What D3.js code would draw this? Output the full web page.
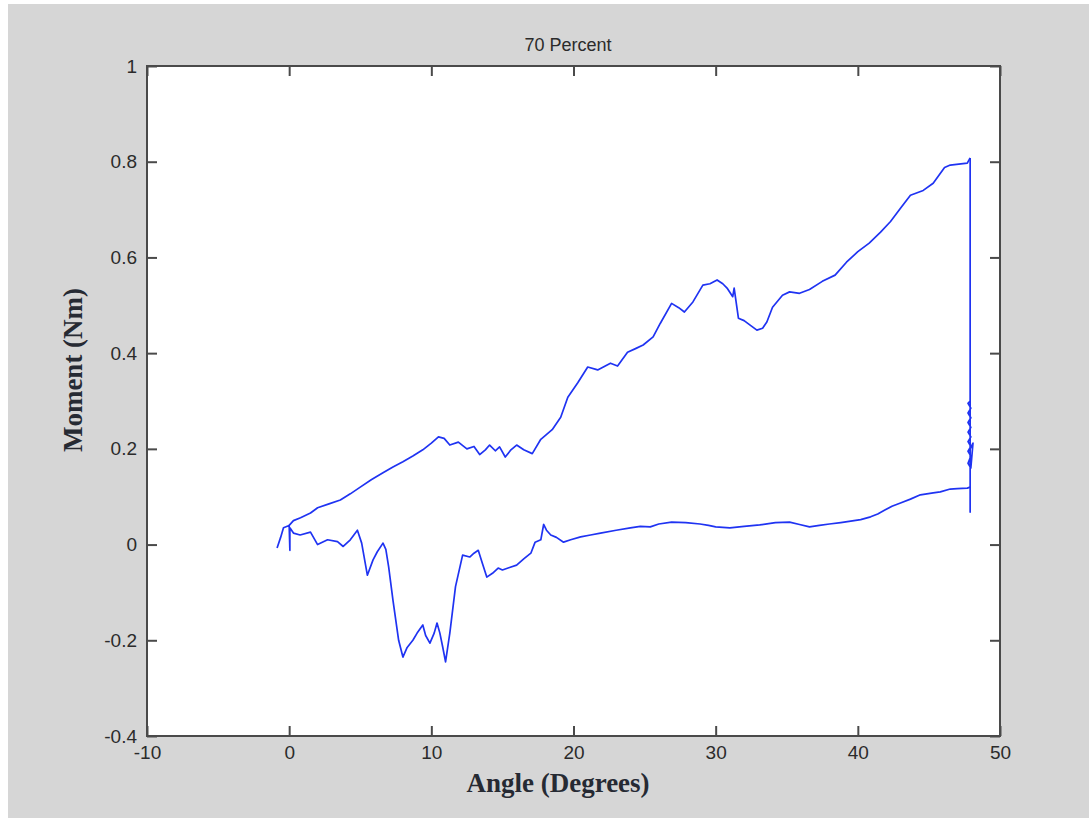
<!DOCTYPE html>
<html>
<head>
<meta charset="utf-8">
<script src="https://cdn.jsdelivr.net/npm/d3@7"></script>
<style>
  body { margin: 0; background: #ffffff; }
  .tick text { font-family: "Liberation Sans", Arial, sans-serif; font-size: 19px; fill: #2b2b2b; }
  .tick line { stroke: #4a4a4a; stroke-width: 2; }
  .axis-title { font-family: "Liberation Serif", "Times New Roman", serif; font-weight: bold; font-size: 27px; fill: #262a33; }
  .chart-title { font-family: "Liberation Sans", Arial, sans-serif; font-size: 18px; fill: #2b2b2b; }
</style>
</head>
<body>
<div id="chart"></div>
<script>
// chart values
const titleText = "70 Percent"
const xTitle = "Angle (Degrees)"
const yTitle = "Moment (Nm)"

const xTicks = [-10, 0, 10, 20, 30, 40, 50]
const xTickLabels = ["-10", "0", "10", "20", "30", "40", "50"]
const yTicks = [-0.4, -0.2, 0, 0.2, 0.4, 0.6, 0.8, 1]
const yTickLabels = ["-0.4", "-0.2", "0", "0.2", "0.4", "0.6", "0.8", "1"]

// loading branch (upper)
const upperAngle = [0.0, 0.3, 0.8, 1.5, 2.0, 2.8, 3.6, 4.3, 5.0, 5.8, 6.6, 7.3, 8.0, 8.7, 9.4, 10.0, 10.5, 10.9, 11.3, 11.9,
  12.5, 13.0, 13.4, 13.8, 14.1, 14.5, 14.8, 15.2, 15.6, 16.0, 16.5, 17.1, 17.7, 18.5, 19.1, 19.6, 20.3, 21.0, 21.7, 22.6,
  23.1, 23.8, 24.4, 24.9, 25.6, 26.1, 26.9, 27.4, 27.8, 28.4, 29.1, 29.6, 30.1, 30.5, 30.8, 31.2, 31.3, 31.6, 32.0, 32.4,
  32.9, 33.3, 33.6, 34.0, 34.7, 35.2, 35.9, 36.6, 37.5, 38.4, 39.2, 40.0, 40.8, 41.6, 42.3, 43.0, 43.7, 44.6, 45.3, 46.1,
  46.5, 47.1, 47.7, 47.9]
const upperMoment = [0.040, 0.050, 0.056, 0.066, 0.077, 0.085, 0.093, 0.106, 0.120, 0.136, 0.150, 0.162, 0.173, 0.185, 0.198, 0.212, 0.225, 0.222, 0.208, 0.214,
  0.200, 0.205, 0.188, 0.198, 0.208, 0.196, 0.204, 0.183, 0.198, 0.208, 0.198, 0.190, 0.220, 0.240, 0.266, 0.308, 0.338, 0.371, 0.365, 0.379,
  0.373, 0.402, 0.410, 0.417, 0.434, 0.462, 0.504, 0.495, 0.486, 0.507, 0.542, 0.545, 0.553, 0.545, 0.536, 0.518, 0.536, 0.473, 0.468, 0.459,
  0.448, 0.452, 0.465, 0.496, 0.521, 0.528, 0.525, 0.533, 0.550, 0.563, 0.590, 0.612, 0.630, 0.653, 0.675, 0.703, 0.730, 0.740, 0.755, 0.788,
  0.793, 0.795, 0.797, 0.808]

// drop and oscillation at the end angle
const turnAngle = [47.9, 47.9, 47.9, 47.75, 47.95, 47.75, 47.95, 47.75, 47.95, 47.75, 47.95, 47.75, 47.95, 47.75, 47.95,
  47.75, 47.95, 48.1, 47.9, 47.9]
const turnMoment = [0.808, 0.068, 0.300, 0.295, 0.285, 0.275, 0.265, 0.255, 0.245, 0.235, 0.225, 0.215, 0.205, 0.195, 0.185,
  0.170, 0.160, 0.212, 0.200, 0.120]

// unloading branch (lower)
const lowerAngle = [47.9, 47.7, 47.0, 46.5, 45.8, 45.3, 44.4, 43.7, 43.0, 42.4, 41.9, 41.4, 40.9, 40.2, 39.5, 38.8, 38.0, 37.3, 36.6, 35.9,
  35.2, 34.2, 33.1, 32.0, 31.0, 30.0, 29.5, 28.9, 27.9, 26.9, 26.0, 25.4, 24.7, 24.0, 23.0, 21.9, 21.2, 20.5, 19.8, 19.3,
  18.8, 18.4, 18.1, 17.9, 17.7, 17.3, 17.0, 16.5, 16.0, 15.5, 15.0, 14.7, 14.3, 13.9, 13.6, 13.3, 13.0, 12.7, 12.2, 11.7,
  11.3, 11.0, 10.8, 10.6, 10.4, 10.2, 9.9, 9.6, 9.4, 9.0, 8.7, 8.3, 8.0, 7.7, 7.3, 7.0, 6.8, 6.6, 6.2, 5.9,
  5.5, 5.1, 4.8, 4.3, 3.8, 3.4, 2.7, 2.0, 1.5, 0.77, 0.3, 0.05, 0.05, 0.0, -0.4, -0.6, -0.85]
const lowerMoment = [0.120, 0.118, 0.117, 0.116, 0.110, 0.108, 0.104, 0.095, 0.087, 0.080, 0.072, 0.064, 0.058, 0.052, 0.049, 0.046, 0.043, 0.040, 0.037, 0.042,
  0.047, 0.046, 0.041, 0.038, 0.035, 0.037, 0.040, 0.043, 0.046, 0.047, 0.043, 0.037, 0.038, 0.035, 0.030, 0.024, 0.020, 0.016, 0.010, 0.005,
  0.015, 0.020, 0.030, 0.042, 0.010, 0.005, -0.018, -0.030, -0.043, -0.048, -0.053, -0.049, -0.060, -0.068, -0.040, -0.012, -0.018, -0.026, -0.022, -0.088,
  -0.185, -0.245, -0.214, -0.185, -0.164, -0.185, -0.206, -0.190, -0.168, -0.185, -0.200, -0.215, -0.235, -0.200, -0.116, -0.047, -0.010, 0.003, -0.015, -0.032,
  -0.064, 0.003, 0.030, 0.010, -0.004, 0.006, 0.010, 0.000, 0.026, 0.020, 0.024, 0.035, -0.012, 0.040, 0.035, 0.015, -0.007]

function drawChart() {

  // 1. dimensions
  let dimensions = {
    width: 1089,
    height: 818,
    margin: { top: 66, right: 89, bottom: 82, left: 147 },
  }
  dimensions.boundedWidth = dimensions.width - dimensions.margin.left - dimensions.margin.right
  dimensions.boundedHeight = dimensions.height - dimensions.margin.top - dimensions.margin.bottom

  // 2. canvas
  const wrapper = d3.select("#chart")
    .append("svg")
      .attr("width", dimensions.width)
      .attr("height", dimensions.height)
      .style("display", "block")

  wrapper.append("rect")
    .attr("x", 8)
    .attr("y", 4)
    .attr("width", dimensions.width - 8)
    .attr("height", dimensions.height - 4)
    .attr("fill", "#d6d6d6")

  const bounds = wrapper.append("g")
    .attr("transform", `translate(${dimensions.margin.left},${dimensions.margin.top})`)

  bounds.append("rect")
    .attr("width", dimensions.boundedWidth)
    .attr("height", dimensions.boundedHeight)
    .attr("fill", "#ffffff")

  // 3. scales
  const xScale = d3.scaleLinear()
    .domain([-10, 50])
    .range([0, dimensions.boundedWidth])
  const yScale = d3.scaleLinear()
    .domain([-0.4, 1])
    .range([dimensions.boundedHeight, 0])

  // 4. axes (ticks point inward, box on all sides)
  const tickLen = 10
  const xLabel = d => xTickLabels[xTicks.indexOf(d)]
  const yLabel = d => yTickLabels[yTicks.indexOf(d)]

  const xAxis = bounds.append("g")
    .attr("transform", `translate(0,${dimensions.boundedHeight})`)
    .call(d3.axisBottom(xScale).tickValues(xTicks).tickFormat(xLabel)
      .tickSizeInner(-tickLen).tickSizeOuter(0).tickPadding(10))
  const xAxisTop = bounds.append("g")
    .call(d3.axisTop(xScale).tickValues(xTicks).tickFormat("")
      .tickSizeInner(-tickLen).tickSizeOuter(0))
  const yAxis = bounds.append("g")
    .call(d3.axisLeft(yScale).tickValues(yTicks).tickFormat(yLabel)
      .tickSizeInner(-tickLen).tickSizeOuter(0).tickPadding(10))
  const yAxisRight = bounds.append("g")
    .attr("transform", `translate(${dimensions.boundedWidth},0)`)
    .call(d3.axisRight(yScale).tickValues(yTicks).tickFormat("")
      .tickSizeInner(-tickLen).tickSizeOuter(0))

  bounds.selectAll(".domain").remove()

  bounds.append("rect")
    .attr("width", dimensions.boundedWidth)
    .attr("height", dimensions.boundedHeight)
    .attr("fill", "none")
    .attr("stroke", "#4a4a4a")
    .attr("stroke-width", 2)

  // 5. data
  const lineGenerator = d3.line()
    .x(d => xScale(d[0]))
    .y(d => yScale(d[1]))

  const lineColor = "#1f33f2"
  const pieces = [
    [upperAngle, upperMoment],
    [turnAngle, turnMoment],
    [lowerAngle, lowerMoment],
  ]
  pieces.forEach(([xs, ys]) => {
    bounds.append("path")
      .attr("d", lineGenerator(xs.map((x, i) => [x, ys[i]])))
      .attr("fill", "none")
      .attr("stroke", lineColor)
      .attr("stroke-width", 1.7)
      .attr("stroke-linejoin", "round")
  })

  // 6. titles
  wrapper.append("text")
    .attr("class", "chart-title")
    .attr("x", 568)
    .attr("y", 51)
    .attr("text-anchor", "middle")
    .text(titleText)

  wrapper.append("text")
    .attr("class", "axis-title")
    .attr("x", 558)
    .attr("y", 792)
    .attr("text-anchor", "middle")
    .text(xTitle)

  wrapper.append("text")
    .attr("class", "axis-title")
    .attr("transform", "translate(82,370) rotate(-90)")
    .attr("text-anchor", "middle")
    .text(yTitle)
}

drawChart()
</script>
</body>
</html>
